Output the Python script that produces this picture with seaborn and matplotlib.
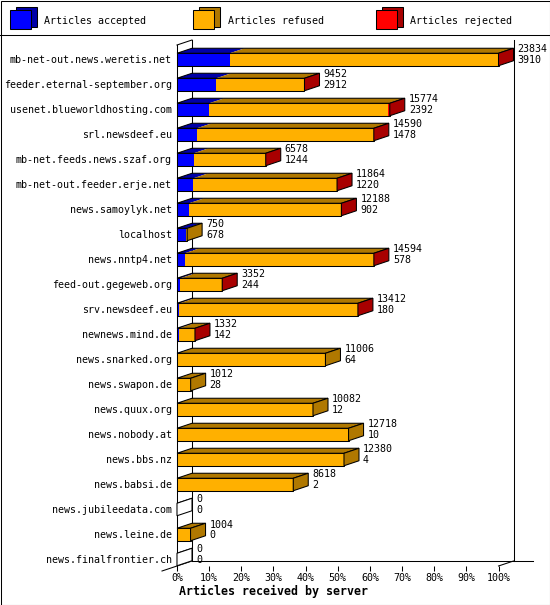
import numpy as np
import matplotlib
matplotlib.use("Agg")
import matplotlib.pyplot as plt
import seaborn as sns
from matplotlib.patches import Polygon, Rectangle
from matplotlib.lines import Line2D

# ---------------- data ----------------
servers = [
    "mb-net-out.news.weretis.net", "feeder.eternal-september.org",
    "usenet.blueworldhosting.com", "srl.newsdeef.eu",
    "mb-net.feeds.news.szaf.org", "mb-net-out.feeder.erje.net",
    "news.samoylyk.net", "localhost", "news.nntp4.net",
    "feed-out.gegeweb.org", "srv.newsdeef.eu", "newnews.mind.de",
    "news.snarked.org", "news.swapon.de", "news.quux.org",
    "news.nobody.at", "news.bbs.nz", "news.babsi.de",
    "news.jubileedata.com", "news.leine.de", "news.finalfrontier.ch",
]
offered = [23834, 9452, 15774, 14590, 6578, 11864, 12188, 750, 14594, 3352,
           13412, 1332, 11006, 1012, 10082, 12718, 12380, 8618, 0, 1004, 0]
accepted = [3910, 2912, 2392, 1478, 1244, 1220, 902, 678, 578, 244,
            180, 142, 64, 28, 12, 10, 4, 2, 0, 0, 0]
refused = [19904, 6528, 13262, 13098, 5324, 10628, 11276, 72, 14004, 3100,
           13216, 1184, 10942, 984, 10070, 12708, 12376, 8616, 0, 1004, 0]
rejected = [20, 12, 120, 14, 10, 16, 10, 0, 12, 8,
            16, 6, 0, 0, 0, 0, 0, 0, 0, 0, 0]
legend_labels = ["Articles accepted", "Articles refused", "Articles rejected"]
x_ticklabels = ["0%", "10%", "20%", "30%", "40%", "50%", "60%", "70%",
                "80%", "90%", "100%"]
x_title = "Articles received by server"

front_colors = ["#0000ff", "#ffb000", "#ff0000"]
dark_colors = ["#0000a8", "#b07800", "#a80000"]

# ---------------- style ----------------
plt.rcParams["font.family"] = ["DejaVu Sans Mono", "DejaVu Sans"]
plt.rcParams["text.color"] = "black"
plt.rcParams["xtick.color"] = "black"
plt.rcParams["ytick.color"] = "black"

W, H = 550, 605
fig = plt.figure(figsize=(W / 100, H / 100), dpi=100)
fig.patch.set_facecolor("white")

def fx(px):
    return px / W

def fy(py):
    return 1 - py / H

ax_left, ax_right, ax_top, ax_bot = 177, 498.5, 45, 566
ax = fig.add_axes([fx(ax_left), fy(ax_bot), (ax_right - ax_left) / W,
                   (ax_bot - ax_top) / H])
ax.set_facecolor("none")

acc = np.array(accepted, dtype=float)
ar = acc + np.array(refused, dtype=float)
tot = ar + np.array(rejected, dtype=float)
maxv = tot.max()

LW = 0.75

def bars(values, face, edge, lw):
    n0 = len(ax.patches)
    sns.barplot(x=values, y=servers, orient="h", width=0.5, color=face,
                saturation=1, errorbar=None, ax=ax, zorder=2)
    for p in ax.patches[n0:]:
        p.set_facecolor(face)
        p.set_edgecolor(edge)
        p.set_linewidth(lw)
        p.set_zorder(2)
        p.set_clip_on(False)

# front faces (stacked by overdrawing cumulative sums)
bars(tot, front_colors[2], "none", 0)
bars(ar, front_colors[1], "none", 0)
bars(acc, front_colors[0], "none", 0)
bars(tot, "none", "black", LW)

ypos = ax.get_yticks()
ax.set_xlim(0, maxv)
ax.set_ylim(20.26, -0.58)

px_per_x = (ax_right - ax_left) / maxv
dx = 15 / px_per_x
dy = 0.2
half = 0.25

# 3D top faces and side faces
for i, y in enumerate(ypos):
    yt = y - half
    yb = y + half
    segs = [(0, acc[i], 0), (acc[i], ar[i], 1), (ar[i], tot[i], 2)]
    last = None
    for x0, x1, k in segs:
        if x1 > x0:
            ax.add_patch(Polygon([(x0, yt), (x1, yt), (x1 + dx, yt - dy),
                                  (x0 + dx, yt - dy)], closed=True,
                                 facecolor=dark_colors[k], edgecolor="none",
                                 zorder=2, clip_on=False))
            last = k
    ax.add_patch(Polygon([(0, yt), (tot[i], yt), (tot[i] + dx, yt - dy),
                          (dx, yt - dy)], closed=True, facecolor="none",
                         edgecolor="black", linewidth=LW, zorder=3,
                         clip_on=False))
    side = dark_colors[last] if last is not None else "white"
    ax.add_patch(Polygon([(tot[i], yt), (tot[i] + dx, yt - dy),
                          (tot[i] + dx, yb - dy), (tot[i], yb)], closed=True,
                         facecolor=side, edgecolor="black", linewidth=LW,
                         zorder=3, clip_on=False))
    lx = tot[i] + dx + 4 / px_per_x
    ax.text(lx, y - 0.40, f"{offered[i]}", fontsize=7.2, ha="left",
            va="center", zorder=4, clip_on=False)
    ax.text(lx, y + 0.04, f"{accepted[i]}", fontsize=7.2, ha="left",
            va="center", zorder=4, clip_on=False)

# frame (walls and floor)
ytop, ybot = -0.58, 20.26
frame_kw = dict(color="black", linewidth=LW, zorder=1, clip_on=False)
ax.plot([dx, dx], [ytop - dy, ybot - dy], **frame_kw)
ax.plot([0, dx], [ytop, ytop - dy], **frame_kw)
ax.plot([-dx, dx], [ybot + dy, ybot - dy], **frame_kw)
ax.plot([dx, maxv + dx + 19 / px_per_x], [ybot - dy, ybot - dy], **frame_kw)
ax.plot([maxv + dx, maxv + dx], [ytop - dy, ybot - dy], **frame_kw)
ax.plot([maxv, maxv + dx], [ybot, ybot - dy], **frame_kw)

# axes styling
for s in ["top", "right", "bottom"]:
    ax.spines[s].set_visible(False)
ax.spines["left"].set_color("black")
ax.spines["left"].set_linewidth(LW)
ax.spines["left"].set_zorder(1)
ax.set_xticks(np.linspace(0, maxv, len(x_ticklabels)))
ax.set_xticklabels(x_ticklabels)
ax.tick_params(axis="x", direction="out", length=3.6, width=LW, pad=1.5,
               labelsize=7.2)
ax.tick_params(axis="y", length=0, pad=3.6, labelsize=7.2)
ax.set_xlabel("")
ax.set_ylabel("")

fig.text(fx(179), fy(591), x_title, fontsize=8.4, fontweight="bold",
         ha="left", va="center")

# legend
icon_x = [10, 193, 376]
text_x = [44.5, 228, 410.5]
for k in range(3):
    x0 = icon_x[k]
    fig.add_artist(Rectangle((fx(x0 + 6), fy(27)), 21 / W, 19.5 / H,
                             facecolor=dark_colors[k], edgecolor="black",
                             linewidth=LW, transform=fig.transFigure))
    fig.add_artist(Rectangle((fx(x0), fy(29.2)), 21 / W, 19.5 / H,
                             facecolor=front_colors[k], edgecolor="black",
                             linewidth=LW, transform=fig.transFigure))
    fig.text(fx(text_x[k]), fy(20.5), legend_labels[k], fontsize=7.2,
             ha="left", va="center")

fig.add_artist(Line2D([0, 1], [fy(35), fy(35)], color="black", linewidth=LW,
                      transform=fig.transFigure))
fig.add_artist(Rectangle((fx(0.5), fy(604.5)), (W - 1) / W, (H - 1) / H,
                         facecolor="none", edgecolor="black", linewidth=LW,
                         transform=fig.transFigure))

fig.savefig("out.png", dpi=100)
